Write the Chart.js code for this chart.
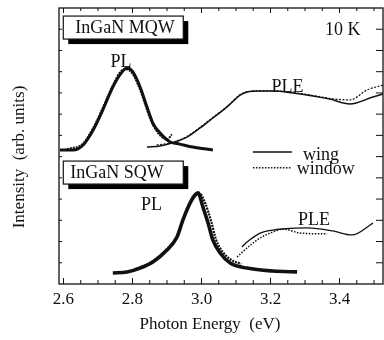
<!DOCTYPE html>
<html>
<head>
<meta charset="utf-8">
<script src="https://cdn.jsdelivr.net/npm/chart.js@4.4.1/dist/chart.umd.min.js"></script>
<style>
  html, body { margin: 0; padding: 0; background: #fff; }
</style>
</head>
<body>
<canvas id="plChart" width="384" height="340"></canvas>
<script>
// InGaN MQW / SQW: PL and PLE spectra at 10 K, "wing" vs "window" detection.

// Axis ticks (eV): minor every 0.05, labelled every 0.2. Intensity ticks are unlabelled.
var energyTicks = [2.6, 2.65, 2.7, 2.75, 2.8, 2.85, 2.9, 2.95, 3.0, 3.05, 3.1, 3.15,
                   3.2, 3.25, 3.3, 3.35, 3.4, 3.45, 3.5];
var energyLabels = ['2.6', '2.8', '3.0', '3.2', '3.4'];
var intensityTicks = [1, 2, 3, 4, 5, 6, 7, 8, 9, 10, 11, 12];

// MQW - PL
var mqwPlWingE   = [2.59, 2.628, 2.657, 2.686, 2.714, 2.743, 2.770, 2.784, 2.801, 2.822, 2.842, 2.859, 2.880, 2.909, 2.937, 2.975, 3.033];
var mqwPlWingI   = [6.31, 6.31, 6.55, 7.25, 8.20, 9.28, 9.99, 10.17, 9.99, 9.28, 8.34, 7.58, 7.11, 6.69, 6.59, 6.45, 6.31];
var mqwPlWindowE = [2.61, 2.657, 2.686, 2.714, 2.743, 2.765, 2.780, 2.800, 2.822, 2.842, 2.859, 2.880, 2.900, 2.914];
var mqwPlWindowI = [6.35, 6.62, 7.35, 8.30, 9.35, 10.0, 10.12, 9.9, 9.15, 8.2, 7.5, 7.0, 6.8, 7.05];

// MQW - PLE
var mqwPleWingE   = [2.842, 2.880, 2.914, 2.958, 2.996, 3.033, 3.074, 3.112, 3.132, 3.170, 3.207, 3.265, 3.323, 3.372, 3.430, 3.497, 3.526];
var mqwPleWingI   = [6.45, 6.50, 6.64, 6.92, 7.35, 7.82, 8.34, 8.90, 9.04, 9.09, 9.09, 9.00, 8.86, 8.71, 8.48, 8.81, 8.95];
var mqwPleWindowE = [2.870, 2.914, 2.958, 2.996, 3.033, 3.074, 3.112, 3.132, 3.170, 3.207, 3.265, 3.323, 3.381, 3.430, 3.480, 3.526];
var mqwPleWindowI = [6.55, 6.66, 6.95, 7.38, 7.85, 8.36, 8.92, 9.05, 9.10, 9.10, 9.02, 8.88, 8.72, 8.67, 9.14, 9.37];

// SQW - PL
var sqwPlWingE   = [2.743, 2.784, 2.822, 2.859, 2.900, 2.929, 2.946, 2.967, 2.981, 2.990, 3.004, 3.019, 3.033, 3.054, 3.083, 3.132, 3.207, 3.277];
var sqwPlWingI   = [0.52, 0.57, 0.75, 1.04, 1.60, 2.21, 3.01, 3.82, 4.19, 4.29, 3.63, 2.87, 2.07, 1.46, 0.99, 0.75, 0.61, 0.57];
var sqwPlWindowE = [2.800, 2.859, 2.900, 2.929, 2.948, 2.969, 2.985, 2.995, 3.012, 3.028, 3.042, 3.062, 3.090, 3.115];
var sqwPlWindowI = [0.65, 1.08, 1.65, 2.25, 3.05, 3.85, 4.20, 4.25, 3.75, 2.95, 2.10, 1.50, 1.10, 0.95];

// SQW - PLE
var sqwPleWingE   = [3.117, 3.132, 3.170, 3.207, 3.236, 3.306, 3.381, 3.436, 3.497];
var sqwPleWingI   = [1.74, 1.98, 2.40, 2.54, 2.59, 2.64, 2.50, 2.31, 2.87];
var sqwPleWindowE = [3.103, 3.132, 3.170, 3.207, 3.236, 3.286, 3.364];
var sqwPleWindowI = [1.27, 1.70, 2.17, 2.45, 2.59, 2.40, 2.36];

var SERIF = "'Liberation Serif', 'Times New Roman', serif";

function pairs(xs, ys) {
  return xs.map(function(x, i) { return { x: x, y: ys[i] }; });
}
function isMajor(v) {
  return Math.abs(v * 5 - Math.round(v * 5)) < 1e-6;
}
function series(label, xs, ys, width, dash) {
  return {
    label: label,
    data: pairs(xs, ys),
    borderColor: '#111',
    borderWidth: width,
    borderDash: dash || [],
    pointRadius: 0,
    fill: false,
    cubicInterpolationMode: 'monotone'
  };
}

// Frame, inward ticks, boxed sample names, curve labels and the wing/window key.
var decorPlugin = {
  id: 'decor',
  afterDraw: function(chart) {
    var ctx = chart.ctx;
    var a = chart.chartArea;
    var xs = chart.scales.x;
    var ys = chart.scales.y;
    function px(e) { return xs.getPixelForValue(e); }
    function py(i) { return ys.getPixelForValue(i); }
    function seg(x1, y1, x2, y2) {
      ctx.beginPath(); ctx.moveTo(x1, y1); ctx.lineTo(x2, y2); ctx.stroke();
    }

    ctx.save();
    ctx.strokeStyle = '#111';
    ctx.lineWidth = 1.3;
    ctx.strokeRect(a.left, a.top, a.right - a.left, a.bottom - a.top);
    ctx.lineWidth = 1;
    energyTicks.forEach(function(v) {
      var x = px(v);
      var len = isMajor(v) ? 6 : 4;
      seg(x, a.bottom, x, a.bottom - len);
      seg(x, a.top, x, a.top + len - 1);
    });
    intensityTicks.forEach(function(v) {
      var y = py(v);
      seg(a.left, y, a.left + 3, y);
      seg(a.right, y, a.right - 7, y);
    });

    // sample boxes with drop shadow
    var boxes = [
      { text: 'InGaN MQW', e: 2.5994, i: 12.62, pad: 12 },
      { text: 'InGaN SQW', e: 2.5994, i: 5.79, pad: 7 }
    ];
    ctx.font = '18px ' + SERIF;
    ctx.textBaseline = 'middle';
    ctx.textAlign = 'left';
    boxes.forEach(function(b) {
      var x = px(b.e), y = py(b.i), w = 120, h = 23;
      ctx.fillStyle = '#000';
      ctx.fillRect(x + 5, y + 5, w, h);
      ctx.fillStyle = '#fff';
      ctx.fillRect(x, y, w, h);
      ctx.strokeStyle = '#111';
      ctx.lineWidth = 1.2;
      ctx.strokeRect(x, y, w, h);
      ctx.fillStyle = '#111';
      ctx.fillText(b.text, x + b.pad, y + h / 2 + 1);
    });

    // curve labels
    var labels = [
      { text: 'PL', e: 2.767, i: 10.46 },
      { text: 'PLE', e: 3.249, i: 9.28 },
      { text: '10 K', e: 3.409, i: 11.96 },
      { text: 'PL', e: 2.855, i: 3.72 },
      { text: 'PLE', e: 3.326, i: 3.01 }
    ];
    ctx.textAlign = 'center';
    ctx.fillStyle = '#111';
    labels.forEach(function(l) {
      ctx.fillText(l.text, px(l.e), py(l.i));
    });

    // key
    ctx.lineWidth = 1.5;
    ctx.strokeStyle = '#111';
    seg(px(3.149), py(6.22), px(3.262), py(6.22));
    ctx.setLineDash([1.5, 1.5]);
    seg(px(3.149), py(5.48), px(3.262), py(5.48));
    ctx.setLineDash([]);
    ctx.textAlign = 'left';
    ctx.fillText('wing', px(3.294), py(6.08));
    ctx.fillText('window', px(3.276), py(5.42));

    // axis titles
    ctx.font = '17px ' + SERIF;
    ctx.textAlign = 'center';
    ctx.fillText('Photon Energy  (eV)', 210, 325);
    ctx.translate(20, 157);
    ctx.rotate(-Math.PI / 2);
    ctx.fillText('Intensity  (arb. units)', 0, 0);
    ctx.restore();
  }
};

new Chart(document.getElementById('plChart').getContext('2d'), {
  type: 'line',
  plugins: [decorPlugin],
  data: {
    datasets: [
      series('MQW PL wing', mqwPlWingE, mqwPlWingI, 3),
      series('MQW PL window', mqwPlWindowE, mqwPlWindowI, 2, [2, 1]),
      series('MQW PLE wing', mqwPleWingE, mqwPleWingI, 1.5),
      series('MQW PLE window', mqwPleWindowE, mqwPleWindowI, 1.2, [2, 1.5]),
      series('SQW PL wing', sqwPlWingE, sqwPlWingI, 3.6),
      series('SQW PL window', sqwPlWindowE, sqwPlWindowI, 2.2, [2, 1]),
      series('SQW PLE wing', sqwPleWingE, sqwPleWingI, 1.3),
      series('SQW PLE window', sqwPleWindowE, sqwPleWindowI, 1.5, [1.5, 1.5])
    ]
  },
  options: {
    responsive: false,
    animation: false,
    layout: { padding: { top: 8, right: 1, left: 0, bottom: 0 } },
    scales: {
      x: {
        type: 'linear',
        min: 2.587,
        max: 3.526,
        afterFit: function(s) { s.height = 56; },
        afterBuildTicks: function(s) {
          s.ticks = energyTicks.map(function(v) { return { value: v }; });
        },
        ticks: {
          autoSkip: false,
          maxRotation: 0,
          padding: 5,
          color: '#111',
          font: { family: SERIF, size: 17 },
          callback: function(v) {
            return isMajor(v) ? energyLabels[Math.round((v - 2.6) * 5)] : '';
          }
        },
        grid: { display: false, drawTicks: false },
        border: { display: false }
      },
      y: {
        min: 0,
        max: 13,
        afterFit: function(s) { s.width = 59; },
        afterBuildTicks: function(s) {
          s.ticks = intensityTicks.map(function(v) { return { value: v }; });
        },
        ticks: { display: false },
        grid: { display: false, drawTicks: false },
        border: { display: false }
      }
    },
    plugins: {
      legend: { display: false },
      tooltip: { enabled: false }
    }
  }
});
</script>
</body>
</html>
